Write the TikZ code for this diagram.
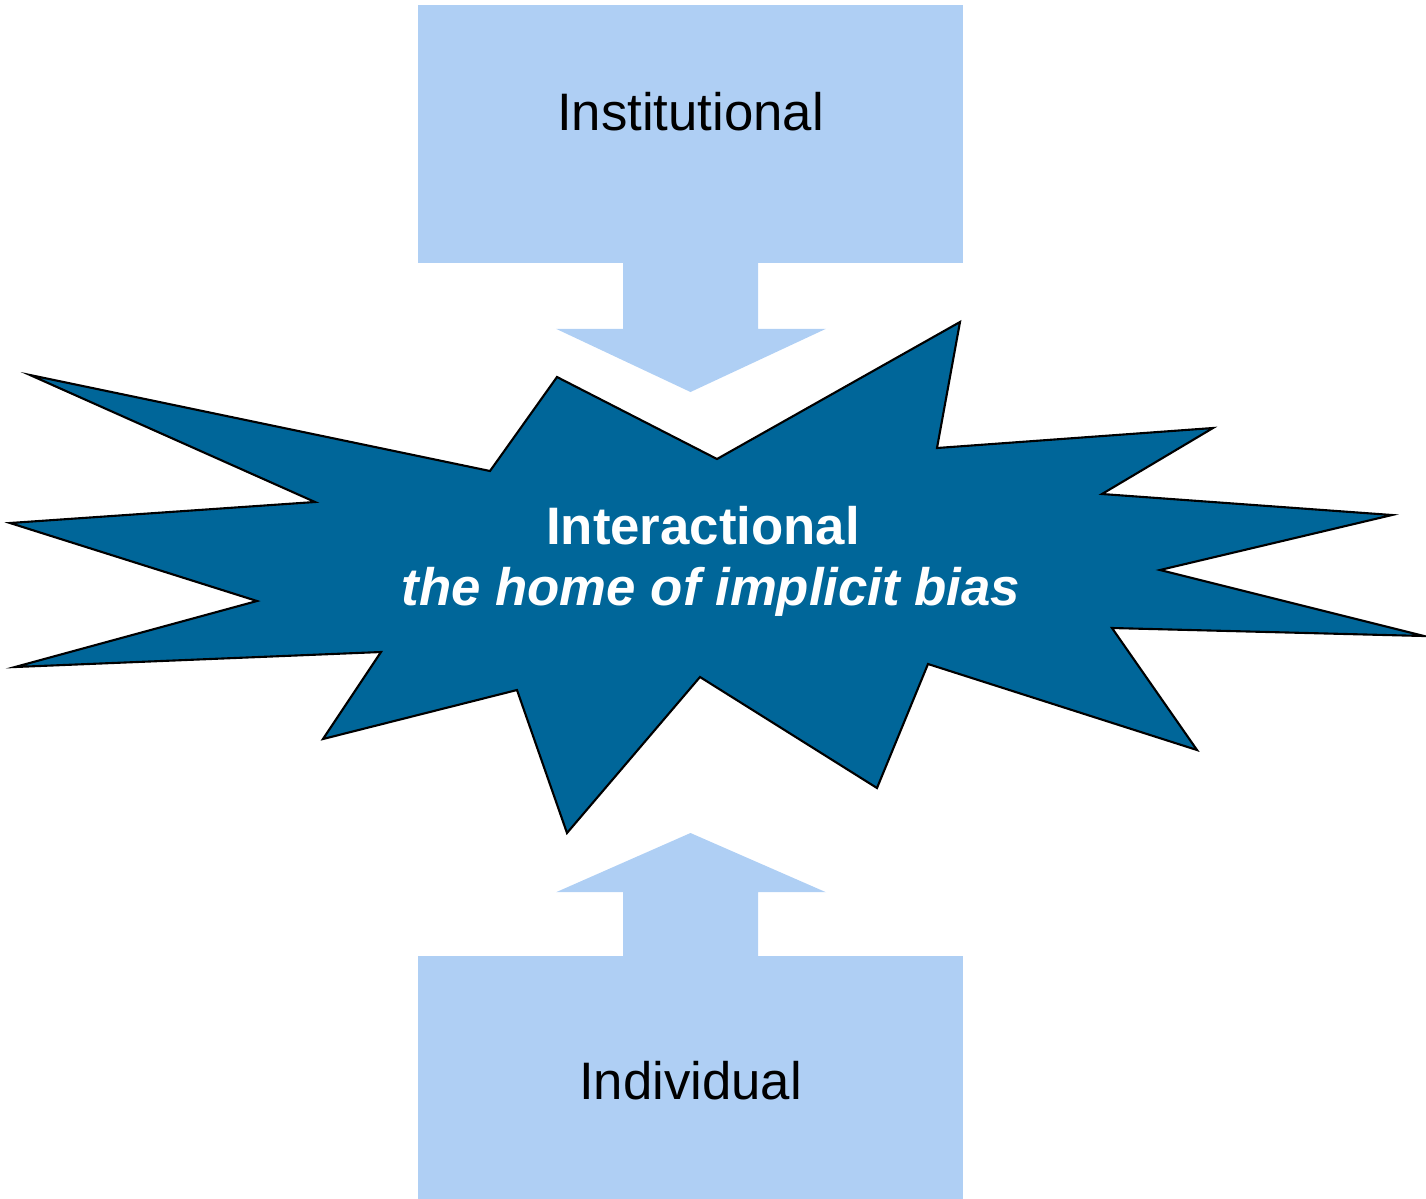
\documentclass[tikz,border=0pt]{standalone}
\usepackage{fontspec}
\setmainfont{Liberation Sans}
\usetikzlibrary{calc}
\definecolor{paleblue}{RGB}{175,207,244}
\definecolor{deepblue}{RGB}{0,102,153}

\begin{document}
\begin{tikzpicture}[x=0.01cm, y=-0.01cm,
      box/.style={rectangle, fill=paleblue, inner sep=0pt, minimum width=5.45cm},
      lbl/.style={font=\fontsize{15}{18}\selectfont, text=black},
      burst/.style={fill=deepblue, draw=black, line width=0.6pt, line join=miter},
      fat/.style={fill=paleblue}]

      \useasboundingbox (0,0) rectangle (1426,1199);

      % the two boxes
      \node[box, minimum height=2.58cm] (inst) at (690.5,134) {};
      \node[box, minimum height=2.43cm] (indiv) at (690.5,1077.5) {};
      \node[lbl] (instlbl) at (690.5,112) {Institutional};
      \node[lbl] (indivlbl) at (690.5,1081) {Individual};

      % the burst
      \draw[burst] (30,375) -- (490,471) -- (557,377) -- (717,459) -- (960,322)
        -- (937,448) -- (1213,428) -- (1102,494) -- (1392,515) -- (1160,570)
        -- (1424,636) -- (1112,628) -- (1197,750) -- (928,664) -- (877,788)
        -- (700,677) -- (567,833) -- (517,690) -- (323,739) -- (381,652)
        -- (15,667) -- (257,601) -- (10,523) -- (315,502) -- cycle;
      \node[text=white, align=center, font=\fontsize{15}{17.4}\selectfont] (interact) at (708,561)
        {\textbf{Interactional}\hspace*{0.1cm}\\\hspace*{0.06cm}\textbf{\textit{the home of implicit bias}}};

      % fat arrows
      \coordinate (intop) at (690.5,392);
      \coordinate (inbot) at (690.5,833);
      \fill[fat] ($(inst.south)+(-67.5,-1)$) -- ($(inst.south)+(-67.5,65)$)
        -- ($(inst.south)+(-134.5,65)$) -- (intop) -- ($(inst.south)+(135.5,65)$)
        -- ($(inst.south)+(67.5,65)$) -- ($(inst.south)+(67.5,-1)$) -- cycle;
      \fill[fat] ($(indiv.north)+(-67.5,1)$) -- ($(indiv.north)+(-67.5,-63)$)
        -- ($(indiv.north)+(-134.5,-63)$) -- (inbot) -- ($(indiv.north)+(135.5,-63)$)
        -- ($(indiv.north)+(67.5,-63)$) -- ($(indiv.north)+(67.5,1)$) -- cycle;
\end{tikzpicture}
\end{document}
